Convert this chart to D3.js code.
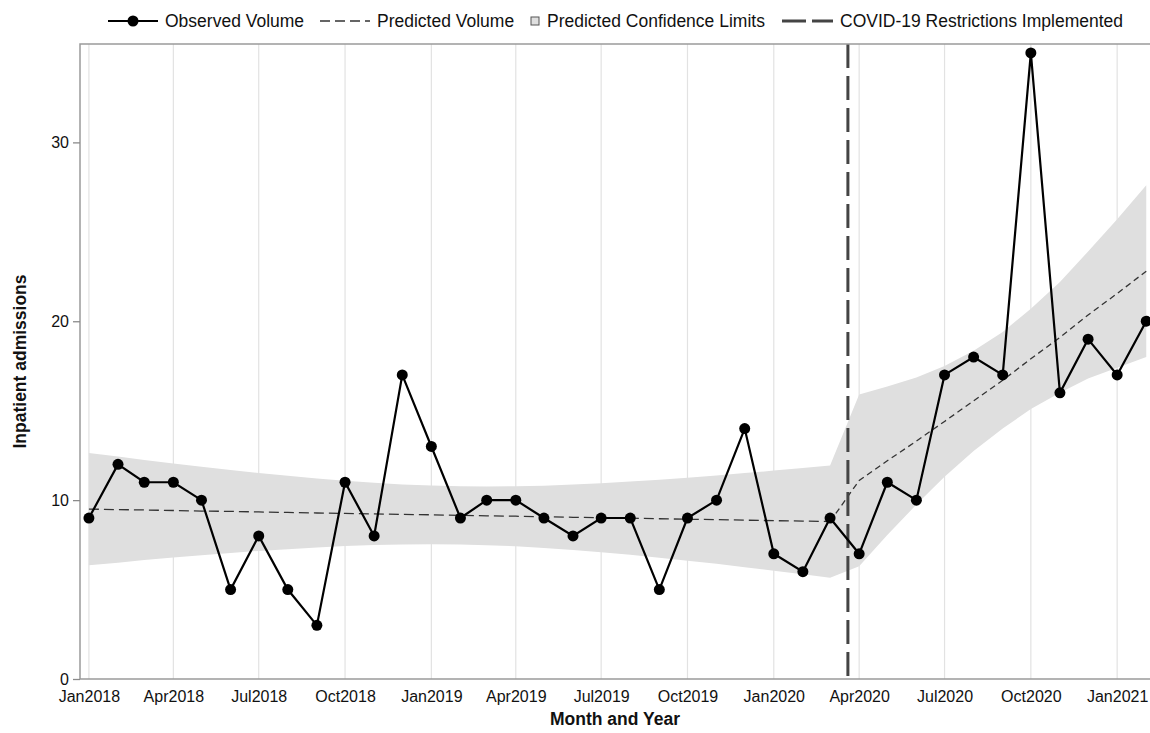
<!DOCTYPE html>
<html>
<head>
<meta charset="utf-8">
<script src="https://cdn.jsdelivr.net/npm/d3@7"></script>
<style>
  html, body { margin: 0; padding: 0; background: #ffffff; }
  svg { display: block; }
  text { font-family: "Liberation Sans", Arial, Helvetica, sans-serif; fill: #111; }
</style>
</head>
<body>
<svg id="chart" width="1150" height="733"></svg>
<script>
// Monthly inpatient admissions, Jan 2018 – Feb 2021
const months = [
  "2018-01","2018-02","2018-03","2018-04","2018-05","2018-06","2018-07","2018-08","2018-09","2018-10","2018-11","2018-12",
  "2019-01","2019-02","2019-03","2019-04","2019-05","2019-06","2019-07","2019-08","2019-09","2019-10","2019-11","2019-12",
  "2020-01","2020-02","2020-03","2020-04","2020-05","2020-06","2020-07","2020-08","2020-09","2020-10","2020-11","2020-12",
  "2021-01","2021-02"
];
const observed = [
  9, 12, 11, 11, 10, 5, 8, 5, 3, 11, 8, 17,
  13, 9, 10, 10, 9, 8, 9, 9, 5, 9, 10, 14,
  7, 6, 9, 7, 11, 10, 17, 18, 17, 35, 16, 19,
  17, 20
];
const predicted = [
  9.50, 9.47, 9.45, 9.42, 9.39, 9.37, 9.34, 9.31, 9.28, 9.26, 9.23, 9.20,
  9.18, 9.15, 9.12, 9.10, 9.07, 9.04, 9.02, 8.99, 8.96, 8.93, 8.91, 8.88,
  8.85, 8.83, 8.80, 11.10, 12.20, 13.30, 14.40, 15.55, 16.70, 17.90, 19.10, 20.35,
  21.55, 22.80
];
const lowerCL = [
  6.36, 6.50, 6.65, 6.79, 6.92, 7.05, 7.16, 7.26, 7.35, 7.43, 7.49, 7.52,
  7.54, 7.52, 7.48, 7.42, 7.33, 7.21, 7.09, 6.94, 6.78, 6.61, 6.44, 6.25,
  6.05, 5.86, 5.66, 6.30, 8.05, 9.75, 11.30, 12.75, 14.00, 15.10, 16.00, 16.80,
  17.40, 18.00
];
const upperCL = [
  12.64, 12.44, 12.25, 12.05, 11.86, 11.69, 11.52, 11.36, 11.21, 11.09, 10.97, 10.88,
  10.82, 10.78, 10.76, 10.78, 10.81, 10.87, 10.95, 11.04, 11.14, 11.25, 11.38, 11.51,
  11.65, 11.80, 11.94, 15.90, 16.35, 16.85, 17.50, 18.35, 19.40, 20.70, 22.20, 23.90,
  25.70, 27.60
];
// Index of the last month before restrictions took effect
const lastPreIndex = 26;
const restrictionDate = "2020-03-20";
const yTicks = [0, 10, 20, 30];
const xTickMonths = [
  "2018-01","2018-04","2018-07","2018-10","2019-01","2019-04","2019-07","2019-10",
  "2020-01","2020-04","2020-07","2020-10","2021-01"
];
const legendLabels = [
  "Observed Volume",
  "Predicted Volume",
  "Predicted Confidence Limits",
  "COVID-19 Restrictions Implemented"
];
const xTitle = "Month and Year";
const yTitle = "Inpatient admissions";

const parseMonth = d3.timeParse("%Y-%m");
const parseDay = d3.timeParse("%Y-%m-%d");
const rows = months.map((m, i) => ({
  date: parseMonth(m),
  obs: observed[i],
  pred: predicted[i],
  lo: lowerCL[i],
  hi: upperCL[i],
  i
}));

const svg = d3.select("#chart");
const plot = { left: 80, right: 1152, top: 44, bottom: 679 };

const x = d3.scaleTime()
  .domain([new Date(2017, 11, 22, 12), new Date(2021, 1, 5)])
  .range([80, 1150]);
const y = d3.scaleLinear()
  .domain([0, 35.5])
  .range([plot.bottom, plot.top]);

const defs = svg.append("defs");
defs.append("clipPath").attr("id", "plot-clip")
  .append("rect")
  .attr("x", plot.left).attr("y", plot.top)
  .attr("width", plot.right - plot.left).attr("height", plot.bottom - plot.top);

// Vertical gridlines at quarter starts
const tickDates = xTickMonths.map(parseMonth);
svg.append("g")
  .selectAll("line")
  .data(tickDates)
  .join("line")
  .attr("x1", d => x(d)).attr("x2", d => x(d))
  .attr("y1", plot.top).attr("y2", plot.bottom)
  .attr("stroke", "#e2e2e2")
  .attr("stroke-width", 1.2);

const g = svg.append("g").attr("clip-path", "url(#plot-clip)");

// Confidence band
g.append("path")
  .datum(rows)
  .attr("fill", "#dfdfdf")
  .attr("d", d3.area()
    .x(d => x(d.date))
    .y0(d => y(d.lo))
    .y1(d => y(d.hi)));

// Predicted volume: pre-period and post-period segments
const predLine = d3.line().x(d => x(d.date)).y(d => y(d.pred));
g.append("path")
  .datum(rows.filter(d => d.i <= lastPreIndex))
  .attr("fill", "none")
  .attr("stroke", "#333")
  .attr("stroke-width", 1.3)
  .attr("stroke-dasharray", "10,5")
  .attr("d", predLine);
g.append("path")
  .datum(rows.filter(d => d.i >= lastPreIndex))
  .attr("fill", "none")
  .attr("stroke", "#333")
  .attr("stroke-width", 1.3)
  .attr("stroke-dasharray", "6,4")
  .attr("d", predLine);

// Restriction reference line
const rx = x(parseDay(restrictionDate));
g.append("line")
  .attr("x1", rx).attr("x2", rx)
  .attr("y1", plot.top).attr("y2", plot.bottom)
  .attr("stroke", "#444")
  .attr("stroke-width", 3)
  .attr("stroke-dasharray", "24,8");

// Observed volume
g.append("path")
  .datum(rows)
  .attr("fill", "none")
  .attr("stroke", "#000")
  .attr("stroke-width", 2.2)
  .attr("d", d3.line().x(d => x(d.date)).y(d => y(d.obs)));
svg.append("g")
  .selectAll("circle")
  .data(rows)
  .join("circle")
  .attr("cx", d => x(d.date))
  .attr("cy", d => y(d.obs))
  .attr("r", 5.5)
  .attr("fill", "#000");

// Frame
svg.append("rect")
  .attr("x", plot.left).attr("y", plot.top)
  .attr("width", plot.right - plot.left).attr("height", plot.bottom - plot.top)
  .attr("fill", "none")
  .attr("stroke", "#9a9a9a")
  .attr("stroke-width", 1.5);

// Y axis
const yAxis = svg.append("g")
  .attr("transform", `translate(${plot.left},0)`)
  .call(d3.axisLeft(y).tickValues(yTicks).tickSize(7).tickPadding(4).tickFormat(d3.format("d")));
yAxis.select(".domain").remove();
yAxis.selectAll(".tick line").attr("stroke", "#8a8a8a").attr("stroke-width", 1.3);
yAxis.selectAll(".tick text").style("font-size", "16px").attr("fill", "#111");

// X axis labels
const xAxis = svg.append("g")
  .attr("transform", `translate(0,${plot.bottom})`)
  .call(d3.axisBottom(x).tickValues(tickDates).tickSize(0).tickPadding(12).tickFormat(d3.timeFormat("%b%Y")));
xAxis.select(".domain").remove();
xAxis.selectAll(".tick text").style("font-size", "16px").attr("fill", "#111");

// Axis titles
svg.append("text")
  .attr("x", (plot.left + 1150) / 2).attr("y", 725)
  .attr("text-anchor", "middle")
  .style("font-size", "17.5px").style("font-weight", "bold")
  .text(xTitle);
svg.append("text")
  .attr("transform", `translate(26,${(plot.top + plot.bottom) / 2}) rotate(-90)`)
  .attr("text-anchor", "middle")
  .style("font-size", "17.5px").style("font-weight", "bold")
  .text(yTitle);

// Legend
const ly = 21;
const legend = svg.append("g");
const legendFont = "17.5px";
// Observed
legend.append("line").attr("x1", 108).attr("x2", 158).attr("y1", ly).attr("y2", ly)
  .attr("stroke", "#000").attr("stroke-width", 2.2);
legend.append("circle").attr("cx", 133).attr("cy", ly).attr("r", 5.5).attr("fill", "#000");
legend.append("text").attr("x", 165).attr("y", ly + 6).style("font-size", legendFont).text(legendLabels[0]);
// Predicted
legend.append("line").attr("x1", 320).attr("x2", 370).attr("y1", ly).attr("y2", ly)
  .attr("stroke", "#333").attr("stroke-width", 1.3).attr("stroke-dasharray", "10,5");
legend.append("text").attr("x", 377).attr("y", ly + 6).style("font-size", legendFont).text(legendLabels[1]);
// Band
legend.append("rect").attr("x", 531).attr("y", ly - 4).attr("width", 8).attr("height", 8)
  .attr("fill", "#dfdfdf").attr("stroke", "#555").attr("stroke-width", 1);
legend.append("text").attr("x", 547).attr("y", ly + 6).style("font-size", legendFont).text(legendLabels[2]);
// Restriction line
legend.append("line").attr("x1", 782).attr("x2", 833).attr("y1", ly).attr("y2", ly)
  .attr("stroke", "#444").attr("stroke-width", 3).attr("stroke-dasharray", "24,6");
legend.append("text").attr("x", 840).attr("y", ly + 6).style("font-size", legendFont).text(legendLabels[3]);
</script>
</body>
</html>
